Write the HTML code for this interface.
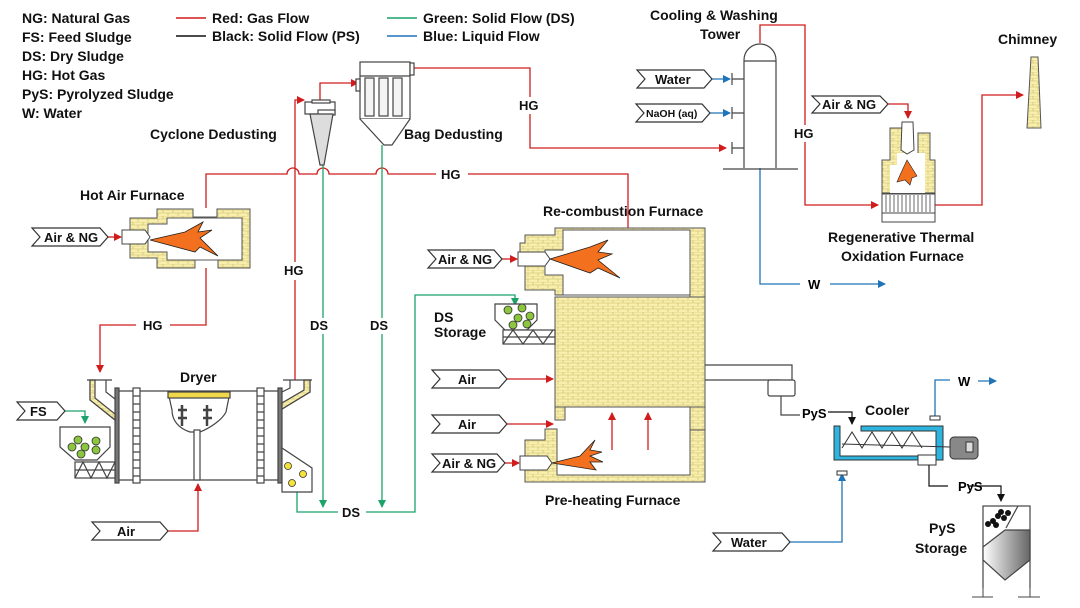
<!DOCTYPE html>
<html><head><meta charset="utf-8"><style>
html,body{margin:0;padding:0;background:#fff;}
svg{display:block;font-family:"Liberation Sans",Arial,sans-serif;font-weight:bold;}
</style></head><body>
<svg width="1080" height="608" viewBox="0 0 1080 608" xmlns="http://www.w3.org/2000/svg">
<defs>
<pattern id="brick" width="10" height="6" patternUnits="userSpaceOnUse">
<rect width="10" height="6" fill="#f8efad"/>
<path d="M0 0H10M0 3H10M3 0V3M8 3V6" stroke="#c9b96a" stroke-width="0.6"/>
</pattern>
<marker id="ar" markerWidth="8" markerHeight="8" refX="7" refY="4" orient="auto" markerUnits="userSpaceOnUse"><path d="M0 0L8 4L0 8z" fill="#d01c1c"/></marker>
<marker id="ag" markerWidth="8" markerHeight="8" refX="7" refY="4" orient="auto" markerUnits="userSpaceOnUse"><path d="M0 0L8 4L0 8z" fill="#1aa36a"/></marker>
<marker id="ab" markerWidth="8" markerHeight="8" refX="7" refY="4" orient="auto" markerUnits="userSpaceOnUse"><path d="M0 0L8 4L0 8z" fill="#1f74b8"/></marker>
<marker id="ak" markerWidth="8" markerHeight="8" refX="7" refY="4" orient="auto" markerUnits="userSpaceOnUse"><path d="M0 0L8 4L0 8z" fill="#111"/></marker>
<linearGradient id="gr" x1="0" x2="1"><stop offset="0" stop-color="#fff"/><stop offset="1" stop-color="#666"/></linearGradient>
</defs>

<!-- legend -->
<g font-size="14" fill="#111">
<text x="22" y="23">NG: Natural Gas</text>
<text x="22" y="42">FS: Feed Sludge</text>
<text x="22" y="61">DS: Dry Sludge</text>
<text x="22" y="80">HG: Hot Gas</text>
<text x="22" y="99">PyS: Pyrolyzed Sludge</text>
<text x="22" y="118">W: Water</text>
<text x="212" y="23">Red: Gas Flow</text>
<text x="212" y="41">Black: Solid Flow (PS)</text>
<text x="423" y="23">Green: Solid Flow (DS)</text>
<text x="423" y="41">Blue: Liquid Flow</text>
</g>
<line x1="176" y1="18" x2="206" y2="18" stroke="#d01c1c" stroke-width="1.5"/>
<line x1="176" y1="36" x2="206" y2="36" stroke="#111" stroke-width="1.5"/>
<line x1="387" y1="18" x2="417" y2="18" stroke="#1aa36a" stroke-width="1.5"/>
<line x1="387" y1="36" x2="417" y2="36" stroke="#1f74b8" stroke-width="1.5"/>

<!-- labels -->
<g font-size="14" fill="#111">
<text x="150" y="139">Cyclone Dedusting</text>
<text x="404" y="139">Bag Dedusting</text>
<text x="80" y="200">Hot Air Furnace</text>
<text x="180" y="382">Dryer</text>
<text x="543" y="216">Re-combustion Furnace</text>
<text x="560" y="348">Pyrolysis Furnace</text>
<text x="545" y="505">Pre-heating Furnace</text>
<text x="434" y="322">DS</text>
<text x="434" y="337">Storage</text>
<text x="650" y="20">Cooling &amp; Washing</text>
<text x="700" y="39">Tower</text>
<text x="998" y="44">Chimney</text>
<text x="828" y="242">Regenerative Thermal</text>
<text x="841" y="261">Oxidation Furnace</text>
<text x="865" y="415">Cooler</text>
<text x="929" y="533">PyS</text>
<text x="915" y="553">Storage</text>
</g>

<!-- red gas lines -->
<g fill="none" stroke="#d01c1c" stroke-width="1.3">
<path d="M206 208V174H287a6 6 0 0 1 12 0H317a6 6 0 0 1 12 0H376a6 6 0 0 1 12 0H436M468 174H628V228"/>
<path d="M206 268V325H170M136 325H100V372" marker-end="url(#ar)"/>
<path d="M295 380V280M295 262V100H304" marker-end="url(#ar)"/>
<path d="M320 102V83H358" marker-end="url(#ar)"/>
<path d="M412 68H530V97M530 114V148H726" marker-end="url(#ar)"/>
<path d="M760 43V25H805V125M805 142V205H878" marker-end="url(#ar)"/>
<path d="M888 104H908V118" marker-end="url(#ar)"/>
<path d="M935 205H982V95H1023" marker-end="url(#ar)"/>
<path d="M108 237H121" marker-end="url(#ar)"/>
<path d="M502 259H517" marker-end="url(#ar)"/>
<path d="M505 463H519" marker-end="url(#ar)"/>
<path d="M507 379H553" marker-end="url(#ar)"/>
<path d="M507 424H553" marker-end="url(#ar)"/>
<path d="M168 531H198V484" marker-end="url(#ar)"/>
<path d="M628 285V244" marker-end="url(#ar)"/>
<path d="M612 450V413" marker-end="url(#ar)"/>
<path d="M648 450V413" marker-end="url(#ar)"/>
</g>
<g font-size="13" fill="#111">
<text x="441" y="179">HG</text>
<text x="143" y="330">HG</text>
<text x="284" y="275">HG</text>
<text x="519" y="110">HG</text>
<text x="794" y="138">HG</text>
</g>

<!-- green lines -->
<g fill="none" stroke="#1aa36a" stroke-width="1.3">
<path d="M323 165V318M323 334V507" marker-end="url(#ag)"/>
<path d="M382 145V318M382 334V507" marker-end="url(#ag)"/>
<path d="M297 492V512H338M366 512H415V295H515V305" marker-end="url(#ag)"/>
<path d="M65 411H85V423" marker-end="url(#ag)"/>
</g>
<g font-size="13" fill="#111">
<text x="310" y="330">DS</text>
<text x="370" y="330">DS</text>
<text x="342" y="517">DS</text>
</g>

<!-- blue lines -->
<g fill="none" stroke="#1f74b8" stroke-width="1.3">
<path d="M712 79H730" marker-end="url(#ab)"/>
<path d="M710 113H730" marker-end="url(#ab)"/>
<path d="M760 168V284H800M830 284H885" marker-end="url(#ab)"/>
<path d="M935 420V380H950M978 381H996" marker-end="url(#ab)"/>
<path d="M790 542H842V474" marker-end="url(#ab)"/>
</g>
<text x="808" y="289" font-size="13">W</text>
<text x="958" y="386" font-size="13">W</text>

<!-- tags -->
<g fill="#fff" stroke="#333" stroke-width="1.2">
<path d="M32 228H100L108 237L100 246H32L40 237z"/>
<path d="M428 250H494L502 259L494 268H428L436 259z"/>
<path d="M432 454H497L505 463L497 472H432L440 463z"/>
<path d="M432 370H499L507 379L499 388H432L440 379z"/>
<path d="M432 415H499L507 424L499 433H432L440 424z"/>
<path d="M17 402H57L65 411L57 420H17L25 411z"/>
<path d="M92 522H160L168 531L160 540H92L100 531z"/>
<path d="M637 70H704L712 79L704 88H637L645 79z"/>
<path d="M636 104H702L710 113L702 122H636L644 113z"/>
<path d="M812 96H880L888 104L880 113H812L820 104z"/>
<path d="M713 533H782L790 542L782 551H713L721 542z"/>
</g>
<g font-size="13" fill="#111">
<text x="44" y="242">Air &amp; NG</text>
<text x="438" y="264">Air &amp; NG</text>
<text x="442" y="468">Air &amp; NG</text>
<text x="458" y="384">Air</text>
<text x="458" y="429">Air</text>
<text x="30" y="416">FS</text>
<text x="117" y="536">Air</text>
<text x="655" y="84">Water</text>
<text x="646" y="117" font-size="10.5">NaOH (aq)</text>
<text x="822" y="109">Air &amp; NG</text>
<text x="731" y="547">Water</text>
</g>

<!-- hot air furnace -->
<path d="M157 209H193V217H217V209H250V268H218V260H195V268H157V258H130V218H157z" fill="url(#brick)" stroke="#555"/>
<path d="M167 218H242V260H167V252H148V224H167z" fill="#fff" stroke="#555"/>
<path d="M193 209V217M217 209V217" stroke="#555"/>
<path d="M122 230H145L150 237L145 244H122z" fill="#fff" stroke="#444"/>
<path d="M150 240L185 232L203 222L198 232L212 230L200 238L218 256L200 247L195 252z" fill="#f2701e" stroke="#222" stroke-width="0.8"/>

<!-- dryer -->
<g stroke="#444" fill="none" stroke-width="1.2">
<line x1="118" y1="391" x2="280" y2="391"/>
<line x1="118" y1="480" x2="280" y2="480"/>
<rect x="115" y="388" width="4" height="95" fill="#777"/>
<rect x="278" y="388" width="4" height="95" fill="#777"/>
<rect x="133" y="388" width="7" height="95" fill="#fff"/>
<rect x="257" y="388" width="7" height="95" fill="#fff"/>
<path d="M133 396h7M133 404h7M133 412h7M133 420h7M133 428h7M133 436h7M133 444h7M133 452h7M133 460h7M133 468h7M133 476h7M257 396h7M257 404h7M257 412h7M257 420h7M257 428h7M257 436h7M257 444h7M257 452h7M257 460h7M257 468h7M257 476h7"/>
<path d="M168 392H230L226 412C222 420 210 428 200 432H190C178 428 172 420 172 410z" fill="#fff"/>
<rect x="168" y="392" width="62" height="6" fill="#f0d84a"/>
<rect x="194" y="430" width="6" height="50" fill="#fff"/>
<path d="M182 405V426M207 405V426M178 410h9M178 418h9M203 410h9M203 418h9" stroke="#444" stroke-width="2.5"/>
<path d="M87 380h25M90 380v20l25 20M106 380v12l9 7" />
<path d="M90 380v20l25 20v-6l-20-16v-18h-5z" fill="url(#brick)"/>
<path d="M283 380h29M310 380v12l-28 17M290 380v8l-8 4"/>
<path d="M310 380v12l-28 17v-6l22-13v-10z" fill="url(#brick)"/>
<path d="M282 448L312 468V492H282z" fill="#fff"/>
<path d="M60 427H110V447L97 460H75L60 447z" fill="#fff"/>
<rect x="75" y="462" width="40" height="16" fill="#fff"/>
<path d="M75 478L83 462L91 478L99 462L107 478L115 462M75 470H115"/>
</g>
<g fill="#8cc63f" stroke="#333" stroke-width="0.8">
<circle cx="78" cy="440" r="4"/><circle cx="85" cy="447" r="4"/><circle cx="96" cy="441" r="4"/><circle cx="96" cy="450" r="4"/><circle cx="81" cy="454" r="4"/><circle cx="72" cy="447" r="4"/>
</g>
<g fill="#f5e33a" stroke="#333" stroke-width="0.8">
<circle cx="288" cy="466" r="3.5"/><circle cx="303" cy="474" r="3.5"/><circle cx="292" cy="483" r="3.5"/>
</g>

<!-- cyclone -->
<g stroke="#444" stroke-width="1.2">
<rect x="305" y="102" width="30" height="12" fill="#fff"/>
<rect x="318" y="110" width="17" height="5" fill="#fff"/>
<path d="M310 114H333L324 165H320z" fill="#ddd"/>
<rect x="312" y="100" width="18" height="3" fill="#fff"/>
</g>
<!-- bag -->
<g stroke="#444" stroke-width="1.2" fill="#fff">
<rect x="360" y="62" width="50" height="57"/>
<path d="M360 119L384 145H392L410 119"/>
<rect x="365" y="78" width="9" height="38" fill="#f4f4f4"/>
<rect x="379" y="78" width="9" height="38" fill="#f4f4f4"/>
<rect x="393" y="78" width="9" height="38" fill="#f4f4f4"/>
<line x1="360" y1="76" x2="410" y2="76"/>
<rect x="410" y="63" width="4" height="12"/>
<rect x="356" y="79" width="4" height="12"/>
</g>

<!-- re-combustion / pyrolysis / pre-heating -->
<path d="M555 228H705V298H690V230H563V295H555V290H525V265H520V243H525V235H555z" fill="url(#brick)" stroke="#555"/>
<path d="M563 230H690V295H563V275H545V250H563z" fill="#fff" stroke="#555"/>
<path d="M518 252H545L550 259L545 266H518z" fill="#fff" stroke="#444"/>
<path d="M550 259L590 247L608 240L598 252L612 254L598 260L620 278L598 268L590 273z" fill="#f2701e" stroke="#222" stroke-width="0.8"/>
<rect x="555" y="297" width="150" height="110" fill="url(#brick)" stroke="#555"/>
<!-- pre-heating -->
<path d="M690 407H705V482H525V440H545V429H557V475H690z" fill="url(#brick)" stroke="#555"/>
<rect x="555" y="407" width="10" height="13" fill="url(#brick)" stroke="#555"/>
<line x1="690" y1="430" x2="705" y2="430" stroke="#555"/>
<path d="M520 456H547L552 463L547 470H520z" fill="#fff" stroke="#444"/>
<path d="M552 463L580 456L595 440L590 450L602 452L590 456L603 462L590 462L596 470z" fill="#f2701e" stroke="#222" stroke-width="0.8"/>

<!-- DS storage -->
<g stroke="#444" stroke-width="1.2" fill="#fff">
<path d="M495 304H537V320L527 330H505L495 320z"/>
<rect x="503" y="330" width="52" height="14"/>
<path d="M503 344L513 330L523 344L533 330L543 344L553 330M503 337H555" fill="none"/>
</g>
<g fill="#8cc63f" stroke="#333" stroke-width="0.8">
<circle cx="508" cy="310" r="4"/><circle cx="522" cy="308" r="4"/><circle cx="518" cy="318" r="4"/><circle cx="530" cy="316" r="4"/><circle cx="513" cy="325" r="4"/><circle cx="527" cy="324" r="4"/>
</g>

<!-- discharge to cooler -->
<g stroke="#444" stroke-width="1.2" fill="#fff">
<path d="M705 365H792V380M705 380H780V382" fill="none"/>
<rect x="768" y="380" width="27" height="16" rx="2"/>
<path d="M781 396V415H800" fill="none"/>
</g>
<text x="802" y="418" font-size="13">PyS</text>
<path d="M828 412H852V424" fill="none" stroke="#111" stroke-width="1.2" marker-end="url(#ak)"/>
<!-- cooler -->
<g stroke="#333" stroke-width="1">
<path d="M834 426H840V456H918V460H834z" fill="#2eb4e0"/>
<path d="M861 426H943V460H918V455H936V431H861z" fill="#2eb4e0"/>
<rect x="918" y="455" width="18" height="10" fill="#fff"/>
<path d="M842 448L852 432L862 448L872 432L882 448L892 432L902 448L912 432L922 448" fill="none"/>
<line x1="842" y1="444" x2="950" y2="447"/>
<rect x="950" y="437" width="28" height="22" rx="4" fill="#888"/>
<rect x="966" y="442" width="7" height="10" fill="#ddd"/>
<rect x="930" y="416" width="10" height="4" fill="#fff"/>
<rect x="837" y="471" width="10" height="4" fill="#fff"/>
</g>
<path d="M929 465V486H948M968 486H1001V501" fill="none" stroke="#111" stroke-width="1.2" marker-end="url(#ak)"/>
<text x="958" y="491" font-size="13">PyS</text>
<!-- PyS storage -->
<g stroke="#444" stroke-width="1.2">
<rect x="983" y="506" width="47" height="100" fill="#fff"/>
<path d="M983 547L1005 530H1030V560L1005 580L983 560z" fill="url(#gr)"/>
<line x1="1018" y1="506" x2="1006" y2="528"/>
</g>
<rect x="980" y="588" width="55" height="20" fill="#fff"/>
<path d="M983 588V597M1030 588V597M972 597H993M1018 597H1040" stroke="#444" fill="none"/>
<g fill="#111"><circle cx="988" cy="524" r="3"/><circle cx="993" cy="521" r="3"/><circle cx="998" cy="516" r="3"/><circle cx="1004" cy="518" r="3"/><circle cx="1001" cy="512" r="3"/><circle cx="1008" cy="513" r="3"/><circle cx="996" cy="525" r="3"/></g>

<!-- tower -->
<g stroke="#444" stroke-width="1.2" fill="#fff">
<path d="M744 168V60A16 16 0 0 1 776 60V168"/>
<line x1="744" y1="61" x2="776" y2="61"/>
<line x1="723" y1="169" x2="798" y2="169"/>
<path d="M732 73v12M732 107v12M732 142v12M732 79h12M732 113h12M732 148h12" fill="none"/>
</g>

<!-- RTO -->
<path d="M890 128H907V156H918V133H930V160H935V193H882V160H890z" fill="url(#brick)" stroke="#555"/>
<path d="M897 153H925V193H890V165H897z" fill="#fff" stroke="none"/>
<path d="M902 122H913L914 150L907 154L901 150z" fill="#fff" stroke="#444"/>
<path d="M907 160L900 175L897 182L905 180L910 185L912 178L917 176z" fill="#f2701e" stroke="#222" stroke-width="0.6"/>
<rect x="882" y="194" width="53" height="19" fill="#fff" stroke="#444"/>
<path d="M886 195v17M890 195v17M894 195v17M898 195v17M902 195v17M906 195v17M910 195v17M914 195v17M918 195v17M922 195v17M926 195v17M930 195v17" stroke="#444" stroke-width="0.8"/>
<rect x="882" y="213" width="53" height="9" fill="#fff" stroke="#444"/>
<!-- chimney -->
<path d="M1031 57H1038L1041 128H1027z" fill="url(#brick)" stroke="#555"/>
</svg>
</body></html>
